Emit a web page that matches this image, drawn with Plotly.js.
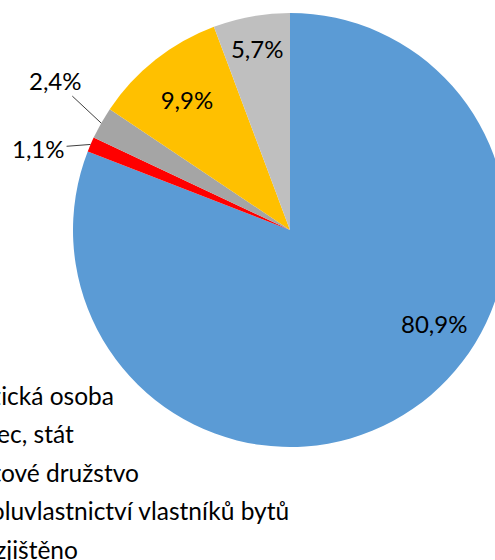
<!DOCTYPE html>
<html><head><meta charset="utf-8">
<script src="https://cdn.plot.ly/plotly-3.0.1.min.js"></script>
<style>html,body{margin:0;padding:0;overflow:hidden;width:495px;height:560px;background:#fff}
#chart{position:absolute;left:-120px;top:0;width:700px;height:560px}</style>
</head><body><div id="chart"></div>
<script>
const categories = ["Fyzická osoba", "Obec, stát", "Bytové družstvo", "Spoluvlastnictví vlastníků bytů", "Nezjištěno"];
const shares = [80.9, 1.1, 2.4, 9.9, 5.7];
const colors = ["#5B9BD5", "#FF0000", "#A5A5A5", "#FFC000", "#BFBFBF"];
const textPositions = ["none", "none", "none", "inside", "inside"];

// pie geometry (layout, in div pixels)
const W = 700, H = 560, CX = 410, CY = 230, R = 217;
const FONT = "Lato, 'Noto Sans', sans-serif";

function fmt(v) { return v.toFixed(1).replace(".", ",") + "%"; }
function midAngle(i) {
  const total = shares.reduce((a, b) => a + b, 0);
  let cum = 0; for (let k = 0; k < i; k++) cum += shares[k];
  return (cum + shares[i] / 2) / total * 2 * Math.PI; // clockwise from 12 o'clock
}
function edgePoint(i, frac) {
  const a = midAngle(i);
  return {x: (CX + frac * R * Math.sin(a)) / W, y: 1 - (CY - frac * R * Math.cos(a)) / H};
}

const trace = {
  type: "pie",
  labels: categories.map(c => '<span style="font-size:24.5px">' + c + '</span>'),
  values: shares,
  sort: false,
  direction: "clockwise",
  rotation: 0,
  marker: {colors: colors, line: {width: 0}},
  texttemplate: "%{value:.1f}%",
  textposition: textPositions,
  insidetextorientation: "horizontal",
  textfont: {family: FONT, size: 24, color: "#000"},
  domain: {x: [(CX - R) / W, (CX + R) / W], y: [1 - (CY + R) / H, 1 - (CY - R) / H]},
  automargin: false,
  hoverinfo: "label+percent"
};

// label for the big slice (best-fit placement)
const bigA = 123 * Math.PI / 180, bigF = 0.79;
const annotations = [
  {xref: "paper", yref: "paper", x: (CX + bigF * R * Math.sin(bigA)) / W, y: 1 - (CY - bigF * R * Math.cos(bigA)) / H,
   xanchor: "center", yanchor: "middle",
   text: fmt(shares[0]), showarrow: false, font: {family: FONT, size: 24, color: "#000"}},
];
const outsideLabels = [{i: 1, ax: -52, ay: 4}, {i: 2, ax: -46, ay: -43}];
outsideLabels.forEach(o => {
  const p = edgePoint(o.i, 1.0);
  annotations.push({xref: "paper", yref: "paper", x: p.x, y: p.y, ax: o.ax, ay: o.ay,
    text: fmt(shares[o.i]), showarrow: true, arrowhead: 0, arrowwidth: 1, arrowcolor: "#404040",
    standoff: 0, startstandoff: 0, font: {family: FONT, size: 24, color: "#000"}});
});

const layout = {
  width: W, height: H,
  margin: {l: 0, r: 0, t: 0, b: 0, autoexpand: false},
  separators: ", ",
  paper_bgcolor: "#fff",
  showlegend: true,
  annotations: annotations,
  legend: {
    xref: "container", yref: "container",
    x: 44 / W, y: 1 - 370 / H, xanchor: "left", yanchor: "top",
    font: {family: FONT, size: 27.3, color: "#000"},
    bgcolor: "rgba(0,0,0,0)"
  }
};
Plotly.newPlot("chart", [trace], layout, {staticPlot: true});
</script></body></html>
